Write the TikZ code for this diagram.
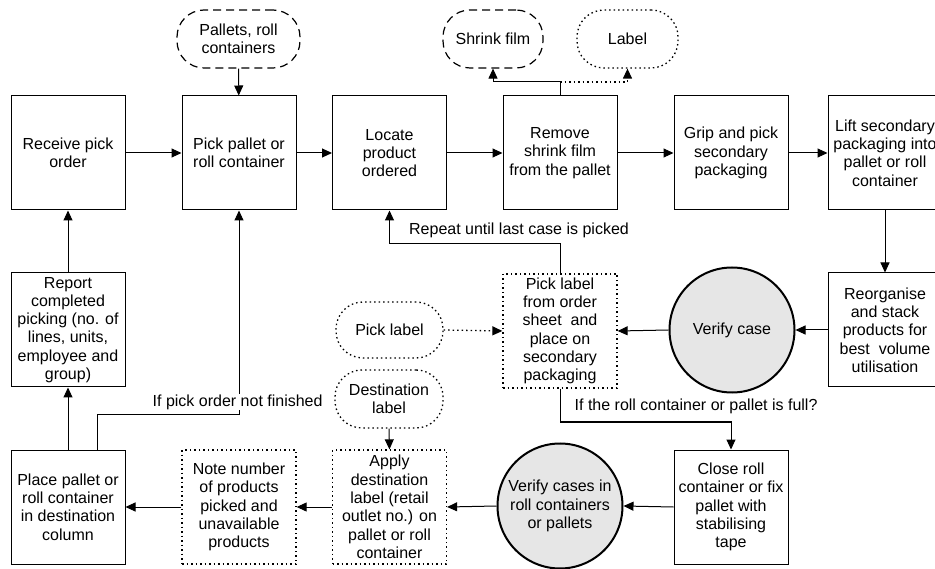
\documentclass[tikz,border=0pt]{standalone}
\usepackage{fontspec}
\setmainfont{Liberation Sans}
\usetikzlibrary{arrows.meta}
\definecolor{circfill}{HTML}{E6E6E6}
\tikzset{
  >={Triangle[length=10pt,width=9pt]},
  every node/.style={font=\fontsize{16}{18.3}\selectfont, align=center, inner sep=0pt},
  stepbox/.style={draw, line width=1pt, minimum width=114pt, minimum height=114pt},
  dotbox/.style={stepbox, dash pattern=on 1.5pt off 3pt, line width=1.3pt},
  vcircle/.style={draw, circle, line width=2pt, fill=circfill, minimum size=125pt},
  dashoval/.style={draw, line width=1.2pt, dash pattern=on 8pt off 5pt, rounded corners=27pt},
  dotoval/.style={draw, line width=1.3pt, dash pattern=on 1.5pt off 3pt, rounded corners=27pt},
  conn/.style={line width=1pt, ->},
  dotconn/.style={line width=1.3pt, dash pattern=on 1.5pt off 3pt, ->},
  lbl/.style={fill=white, inner sep=1pt},
}
\begin{document}
\begin{tikzpicture}[x=1pt,y=-1pt]
\path[use as bounding box, clip] (0,0) rectangle (935,569);
% top row
\node[stepbox] (recv) at (68,153) {Receive pick\\order};
\node[stepbox] (pickpal) at (239,153) {Pick pallet or\\roll container};
\node[stepbox] (locate) at (389.5,153) {Locate\\product\\ordered};
\node[stepbox] (remove) at (560,153) {Remove\\shrink film\\from the pallet};
\node[stepbox] (grip) at (731,153) {Grip and pick\\secondary\\packaging};
\node[stepbox] (lift) at (885,153) {Lift secondary\\packaging into\\pallet or roll\\container};
% inputs
\node[dashoval, minimum width=123pt, minimum height=58pt] (pallets) at (238.5,39) {Pallets, roll\\containers};
\node[dashoval, minimum width=100pt, minimum height=58pt] (shrink) at (493,39) {Shrink film};
\node[dotoval, minimum width=101pt, minimum height=58pt] (label) at (627.5,39) {Label};
% middle row
\node[stepbox] (report) at (68,330) {Report\\completed\\picking (no. of\\lines, units,\\employee and\\group)};
\node[dotoval, minimum width=107pt, minimum height=56pt] (plabel) at (389.5,330) {Pick label};
\node[dotbox] (picklbl) at (560,331) {Pick label\\from order\\sheet\ \ and\\place on\\secondary\\packaging};
\node[vcircle] (vcase) at (732,330) {Verify case};
\node[stepbox] (reorg) at (885,330) {Reorganise\\and stack\\products for\\best\ \ volume\\utilisation};
% bottom row
\node[dotoval, minimum width=108pt, minimum height=58pt] (dlabel) at (389,399) {Destination\\label};
\node[stepbox] (place) at (68,507) {Place pallet or\\roll container\\in destination\\column};
\node[dotbox] (note) at (239,507) {Note number\\of products\\picked and\\unavailable\\products};
\node[dotbox] (apply) at (389.5,507) {Apply\\destination\\label (retail\\outlet no.) on\\pallet or roll\\container};
\node[vcircle] (vcases) at (560,506) {Verify cases in\\roll containers\\or pallets};
\node[stepbox] (close) at (731,507) {Close roll\\container or fix\\pallet with\\stabilising\\tape};
% coordinates for bends
\coordinate (rj) at (560,82);
\coordinate (rp) at (560,244);
\coordinate (fb) at (560,422);
\coordinate (pa) at (97,415);
% connectors
\draw[conn] (recv) -- (pickpal);
\draw[conn] (pickpal) -- (locate);
\draw[conn] (locate) -- (remove);
\draw[conn] (remove) -- (grip);
\draw[conn] (grip) -- (lift);
\draw[conn] (pallets) -- (pickpal);
\draw[conn] (remove.north) -- (rj) -| (shrink.south);
\draw[dotconn] (rj) -| (label.south);
\draw[conn] (lift.south) -- (reorg.north);
\draw[conn] (reorg.west) -- (vcase.east);
\draw[conn] (vcase.west) -- (picklbl.east);
\draw[dotconn] (plabel.east) -- (picklbl.west);
\draw[conn] (picklbl.north) -- (rp) -| (locate.south);
\draw[conn] (picklbl.south) -- (fb) -| (close.north);
\draw[conn] (close.west) -- (vcases.east);
\draw[conn] (vcases.west) -- (apply.east);
\draw[conn] (apply.west) -- (note.east);
\draw[conn] (note.west) -- (place.east);
\draw[conn] (dlabel.south) -- (apply.north);
\draw[conn] (place.north) -- (report.south);
\draw[conn] (report.north) -- (recv.south);
\draw[conn] (place.north -| pa) -- (pa) -| (pickpal.south);
% connector labels
\node (lrep) at (519,230) {Repeat until last case is picked};
\node[anchor=west] (lfull) at (574.5,406) {If the roll container or pallet is full?};
\node[lbl, anchor=west] (lnot) at (151.5,402) {If pick order not finished};
\end{tikzpicture}
\end{document}
